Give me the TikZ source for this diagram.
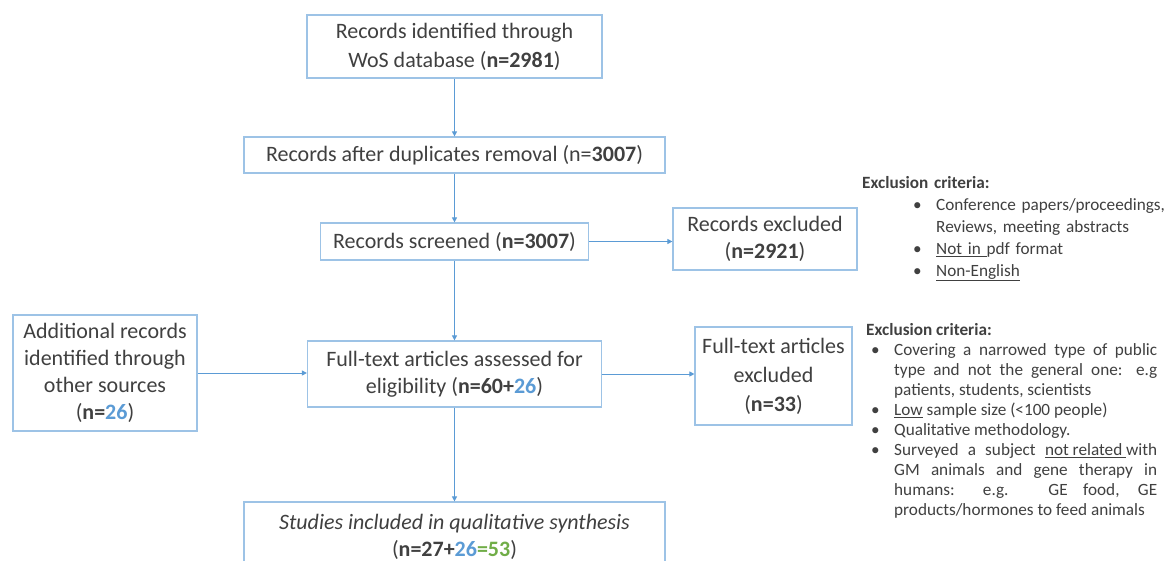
\documentclass[tikz,border=0pt]{standalone}
\usepackage{fontspec}
\setmainfont{Carlito}
\usetikzlibrary{arrows.meta}
\definecolor{boxline}{HTML}{9DC3E6}
\definecolor{arrowc}{HTML}{5B9BD5}
\definecolor{txt}{HTML}{404040}
\definecolor{numblue}{HTML}{5B9BD5}
\definecolor{numgreen}{HTML}{70AD47}
\newcommand{\bul}[1]{\hspace*{#1}\makebox[23pt][l]{\textbullet}}
\begin{document}
\begin{tikzpicture}[x=1pt,y=-1pt,
 flowbox/.style={draw=boxline, line width=1.2pt, text=txt, align=center, inner sep=0pt, font=\fontsize{22}{27}\selectfont},
 conn/.style={draw=arrowc, line width=1pt, -{Triangle[length=5pt,width=5pt]}},
 crit/.style={text=txt, inner sep=0pt, anchor=north west, font=\fontsize{17.2}{20}\selectfont}]
\clip (0,0) rectangle (1166,560);
\fill[white] (0,0) rectangle (1166,560);

\node[flowbox, minimum width=295pt, minimum height=63pt, font=\fontsize{22}{29}\selectfont] (wos) at (454.5,46.5)
  {Records identified through\\WoS database (\textbf{n=2981})};
\node[flowbox, minimum width=421pt, minimum height=36pt] (dup) at (454.5,155)
  {Records after duplicates removal (n=\textbf{3007})};
\node[flowbox, minimum width=268pt, minimum height=37pt] (scr) at (454.5,241.5)
  {Records screened (\textbf{n=3007})};
\node[flowbox, minimum width=184pt, minimum height=62pt] (rex) at (765,239)
  {Records excluded\\(\textbf{n=2921})};
\node[flowbox, minimum width=184pt, minimum height=116pt] (add) at (105,373)
  {Additional records\\identified through\\other sources\\(\textbf{n=\textcolor{numblue}{26}})};
\node[flowbox, minimum width=294pt, minimum height=66pt] (ass) at (454.5,374)
  {Full-text articles assessed for\\eligibility (\textbf{n=60+\textcolor{numblue}{26}})};
\node[flowbox, minimum width=157pt, minimum height=98pt, font=\fontsize{22}{29}\selectfont] (fte) at (773.5,376)
  {Full-text articles\\excluded\\(\textbf{n=33})};
\node[flowbox, minimum width=421pt, minimum height=70pt] (stu) at (454.5,537)
  {\textit{Studies included in qualitative synthesis}\\(\textbf{n=27+\textcolor{numblue}{26}\textcolor{numgreen}{=53}})};

\draw[conn] (wos.south) -- (dup.north);
\draw[conn] (dup.south) -- (scr.north);
\draw[conn] (scr.south) -- (ass.north);
\draw[conn] (ass.south) -- (stu.north);
\draw[conn] (scr.east) -- (scr.east -| rex.west);
\draw[conn] (add.east) -- (add.east -| ass.west);
\draw[conn] (ass.east) -- (ass.east -| fte.west);

\node[crit, text width=304pt, align=left] (crit1) at (862,176) {%
  \parindent=0pt\baselineskip=22pt
  \textbf{Exclusion criteria:}\par
  \hangindent=74pt\hangafter=1 \bul{51pt}Conference papers/proceedings,\break Reviews, meeting abstracts\par
  \bul{51pt}\underline{Not in }pdf format\par
  \bul{51pt}\underline{Non-English}\par};

\node[crit, text width=291pt, align=justify] (crit2) at (866,323) {%
  \parindent=0pt\baselineskip=20pt
  \textbf{Exclusion criteria:}\par
  \hangindent=28pt\hangafter=1 \bul{5pt}Covering a narrowed type of public\linebreak type and not the general one: e.g\linebreak patients, students, scientists\par
  \hangindent=28pt\hangafter=1 \bul{5pt}\underline{Low} sample size (<100 people)\par
  \hangindent=28pt\hangafter=1 \bul{5pt}Qualitative methodology.\par
  \hangindent=28pt\hangafter=1 \bul{5pt}Surveyed a subject \underline{not related }with\linebreak GM animals and gene therapy in\linebreak humans: e.g. GE food, GE\linebreak products/hormones to feed animals\par};
\end{tikzpicture}
\end{document}
